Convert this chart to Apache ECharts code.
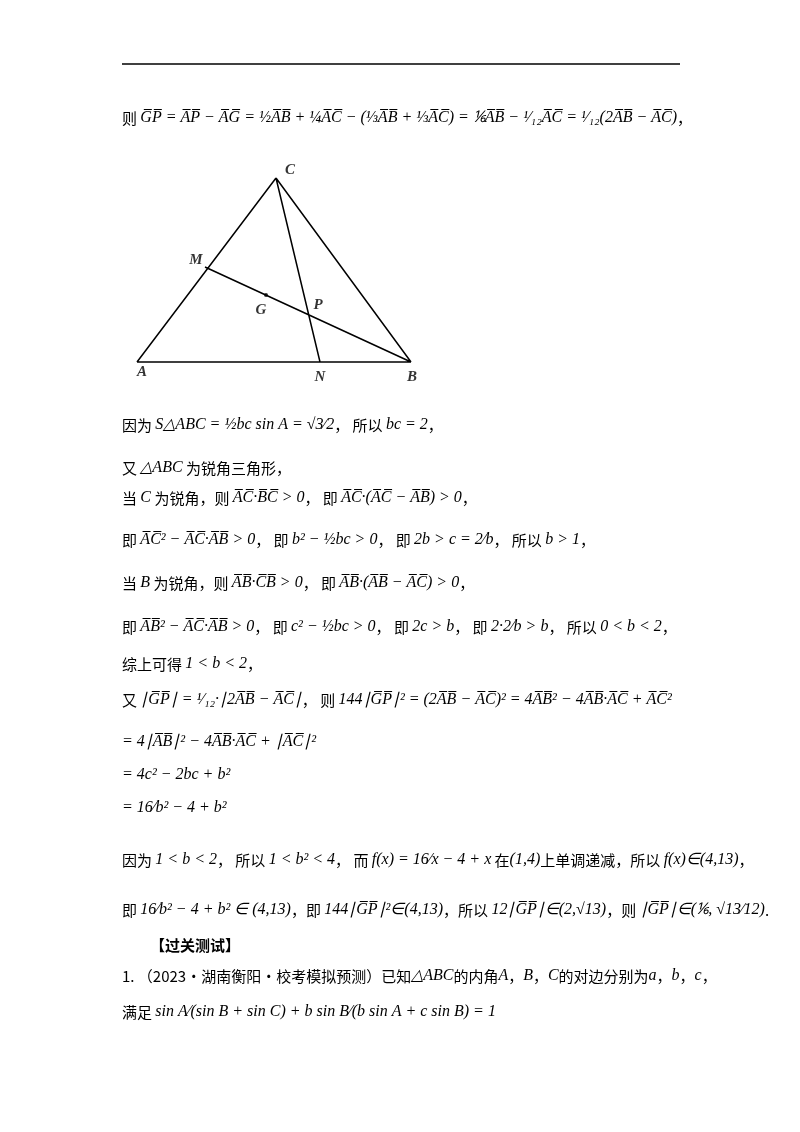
<!DOCTYPE html>
<html>
<head>
<meta charset="utf-8">
<script src="https://cdn.jsdelivr.net/npm/echarts@6/dist/echarts.min.js"></script>
<style>html,body{margin:0;background:#fff}#c{width:800px;height:1132px}</style>
</head>
<body>
<div id="c"></div>
<script>
// figure points (page pixel units)
var ptNames = ['A', 'B', 'C', 'M', 'N', 'P', 'G'];
var ptX = [137, 411, 276, 205, 320, 312, 266];
var ptY = [362, 362, 178, 267, 362, 316, 295];
// segments drawn between named points
var segs = [['A', 'B'], ['B', 'C'], ['C', 'A'], ['M', 'B'], ['C', 'N']];
// label offsets
var lblX = [142, 412, 290, 196, 320, 318, 261];
var lblY = [372, 377, 170, 260, 377, 305, 310];

// text lines: y, x, [[style, text], ...]  r = red chinese, m = math
var lines = [
  [118, 122, [['r', '则 '], ['m', 'G̅P̅ = A̅P̅ − A̅G̅ = ½A̅B̅ + ¼A̅C̅ − (⅓A̅B̅ + ⅓A̅C̅) = ⅙A̅B̅ − ¹⁄₁₂A̅C̅ = ¹⁄₁₂(2A̅B̅ − A̅C̅)'], ['r', '，']]],
  [425, 122, [['r', '因为 '], ['m', 'S△ABC = ½bc sin A = √3⁄2'], ['r', '， 所以 '], ['m', 'bc = 2'], ['r', '，']]],
  [468, 122, [['r', '又 '], ['m', '△ABC'], ['r', ' 为锐角三角形，']]],
  [498, 122, [['r', '当 '], ['m', 'C'], ['r', ' 为锐角，则 '], ['m', 'A̅C̅·B̅C̅ > 0'], ['r', '， 即 '], ['m', 'A̅C̅·(A̅C̅ − A̅B̅) > 0'], ['r', '，']]],
  [540, 122, [['r', '即 '], ['m', 'A̅C̅² − A̅C̅·A̅B̅ > 0'], ['r', '， 即 '], ['m', 'b² − ½bc > 0'], ['r', '， 即 '], ['m', '2b > c = 2⁄b'], ['r', '， 所以 '], ['m', 'b > 1'], ['r', '，']]],
  [583, 122, [['r', '当 '], ['m', 'B'], ['r', ' 为锐角，则 '], ['m', 'A̅B̅·C̅B̅ > 0'], ['r', '， 即 '], ['m', 'A̅B̅·(A̅B̅ − A̅C̅) > 0'], ['r', '，']]],
  [627, 122, [['r', '即 '], ['m', 'A̅B̅² − A̅C̅·A̅B̅ > 0'], ['r', '， 即 '], ['m', 'c² − ½bc > 0'], ['r', '， 即 '], ['m', '2c > b'], ['r', '， 即 '], ['m', '2·2⁄b > b'], ['r', '， 所以 '], ['m', '0 < b < 2'], ['r', '，']]],
  [664, 122, [['r', '综上可得 '], ['m', '1 < b < 2'], ['r', '，']]],
  [700, 122, [['r', '又 '], ['m', '∣G̅P̅∣ = ¹⁄₁₂·∣2A̅B̅ − A̅C̅∣'], ['r', '， 则 '], ['m', '144∣G̅P̅∣² = (2A̅B̅ − A̅C̅)² = 4A̅B̅² − 4A̅B̅·A̅C̅ + A̅C̅²']]],
  [742, 122, [['m', '= 4∣A̅B̅∣² − 4A̅B̅·A̅C̅ + ∣A̅C̅∣²']]],
  [775, 122, [['m', '= 4c² − 2bc + b²']]],
  [808, 122, [['m', '= 16⁄b² − 4 + b²']]],
  [860, 122, [['r', '因为 '], ['m', '1 < b < 2'], ['r', '， 所以 '], ['m', '1 < b² < 4'], ['r', '， 而 '], ['m', 'f(x) = 16⁄x − 4 + x'], ['r', ' 在'], ['m', '(1,4)'], ['r', '上单调递减，所以 '], ['m', 'f(x)∈(4,13)'], ['r', '，']]],
  [910, 122, [['r', '即 '], ['m', '16⁄b² − 4 + b² ∈ (4,13)'], ['r', '，即 '], ['m', '144∣G̅P̅∣²∈(4,13)'], ['r', '，所以 '], ['m', '12∣G̅P̅∣∈(2,√13)'], ['r', '，则 '], ['m', '∣G̅P̅∣∈(⅙, √13⁄12)'], ['r', '.']]],
  [945, 150, [['b', '【过关测试】']]],
  [976, 122, [['k', '1. （2023·湖南衡阳·校考模拟预测）已知'], ['m', '△ABC'], ['k', '的内角'], ['m', 'A'], ['k', '，'], ['m', 'B'], ['k', '，'], ['m', 'C'], ['k', '的对边分别为'], ['m', 'a'], ['k', '，'], ['m', 'b'], ['k', '，'], ['m', 'c'], ['k', '，']]],
  [1012, 122, [['k', '满足 '], ['m', 'sin A⁄(sin B + sin C) + b sin B⁄(b sin A + c sin B) = 1']]]
];

var segData = [];
segs.forEach(function (s) {
  var a = ptNames.indexOf(s[0]), b = ptNames.indexOf(s[1]);
  segData.push([ptX[a], ptY[a]], [ptX[b], ptY[b]], [null, null]);
});

var rich = {
  r: {color: '#e8201f', fontFamily: 'Noto Sans CJK SC', fontSize: 15},
  k: {color: '#111', fontFamily: 'Noto Sans CJK SC', fontSize: 15},
  b: {color: '#111', fontFamily: 'Noto Sans CJK SC', fontSize: 15, fontWeight: 'bold'},
  m: {color: '#111', fontFamily: 'Liberation Serif', fontStyle: 'italic', fontSize: 16}
};
var graphics = [{type: 'line', shape: {x1: 122, y1: 64, x2: 680, y2: 64}, style: {stroke: '#000', lineWidth: 1.5}}];
lines.forEach(function (l) {
  var t = l[2].map(function (p) { return '{' + p[0] + '|' + p[1] + '}'; }).join('');
  graphics.push({type: 'text', x: l[1], y: l[0], style: {text: t, rich: rich, verticalAlign: 'middle'}});
});

var chart = echarts.init(document.getElementById('c'));
chart.setOption({
  animation: false,
  grid: {left: 0, top: 0, width: 800, height: 1132},
  xAxis: {type: 'value', min: 0, max: 800, show: false},
  yAxis: {type: 'value', min: 0, max: 1132, inverse: true, show: false},
  graphic: graphics,
  series: [
    {type: 'line', data: segData, connectNulls: false, showSymbol: false, lineStyle: {color: '#000', width: 1.5}},
    {type: 'scatter', data: [[ptX[6], ptY[6]]], symbolSize: 4, itemStyle: {color: '#000'}, z: 5},
    {type: 'scatter', symbolSize: 0,
     data: ptNames.map(function (n, i) { return {name: n, value: [lblX[i], lblY[i]]}; }),
     label: {show: true, position: 'inside', formatter: '{b}', color: '#000',
             fontFamily: 'Liberation Serif', fontStyle: 'italic', fontWeight: 'bold', fontSize: 15}}
  ]
});
</script>
</body>
</html>
